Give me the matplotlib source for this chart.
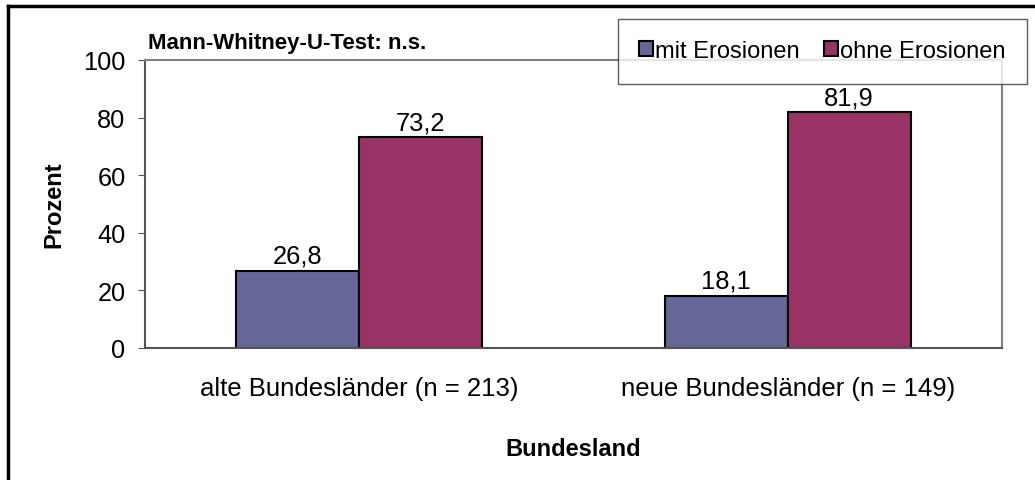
import numpy as np
import matplotlib.pyplot as plt
from matplotlib.lines import Line2D

plt.rcParams['font.family'] = ['Liberation Sans', 'DejaVu Sans']

# data
categories = ['alte Bundesländer (n = 213)', 'neue Bundesländer (n = 149)']
series_names = ['mit Erosionen', 'ohne Erosionen']
mit_erosionen = [26.8, 18.1]
ohne_erosionen = [73.2, 81.9]
colors = ['#666699', '#993366']

W, H = 1035, 481
fig = plt.figure(figsize=(W / 100, H / 100), dpi=100)
ax = fig.add_axes([145 / W, 1 - 349 / H, (1002 - 145) / W, (349 - 61) / H])

x = np.arange(len(categories))
bw = 0.287
b1 = ax.bar(x - bw / 2, mit_erosionen, bw, color=colors[0], edgecolor='black', linewidth=1.5,
            label=series_names[0])
b2 = ax.bar(x + bw / 2, ohne_erosionen, bw, color=colors[1], edgecolor='black', linewidth=1.5,
            label=series_names[1])

for bars, vals in ((b1, mit_erosionen), (b2, ohne_erosionen)):
    for r, v in zip(bars, vals):
        ax.text(r.get_x() + r.get_width() / 2, v + 1.0, ('%.1f' % v).replace('.', ','),
                ha='center', va='bottom', fontsize=18.4)

ax.set_xlim(-0.5, 1.5)
ax.set_ylim(0, 100)
ax.set_yticks([0, 20, 40, 60, 80, 100])
ax.set_xticks(x)
ax.set_xticklabels(categories, fontsize=18.5)
ax.tick_params(axis='y', labelsize=18.3, length=5, color='#555555', pad=9)
ax.tick_params(axis='x', length=0, pad=20)
for s in ax.spines.values():
    s.set_color('#808080')
    s.set_linewidth(1.5)
ax.spines['left'].set_color('#555555')
ax.spines['bottom'].set_color('#555555')

ax.set_ylabel('Prozent', fontsize=17, fontweight='bold', labelpad=13)
ax.set_xlabel('Bundesland', fontsize=17, fontweight='bold', labelpad=27)

fig.text(148 / W, 1 - 44 / H, 'Mann-Whitney-U-Test: n.s.', fontsize=16, fontweight='bold',
         va='center', ha='left')

leg = fig.legend(handles=[b1, b2], loc='upper right', bbox_to_anchor=(1027 / W, 1 - 20 / H),
                 ncol=2, fontsize=17, frameon=True, fancybox=False, edgecolor='#333333',
                 handlelength=0.6, handleheight=0.6, handletextpad=0.1, columnspacing=1.0,
                 borderpad=0.9, borderaxespad=0)
leg.get_frame().set_linewidth(1.0)

# outer frame (top and left edges visible)
fig.add_artist(Line2D([8 / W, 1], [1 - 7 / H, 1 - 7 / H], color='black', lw=2.5,
                      transform=fig.transFigure))
fig.add_artist(Line2D([8 / W, 8 / W], [0, 1 - 7 / H], color='black', lw=2.5,
                      transform=fig.transFigure))

fig.savefig('out.png', dpi=100)
